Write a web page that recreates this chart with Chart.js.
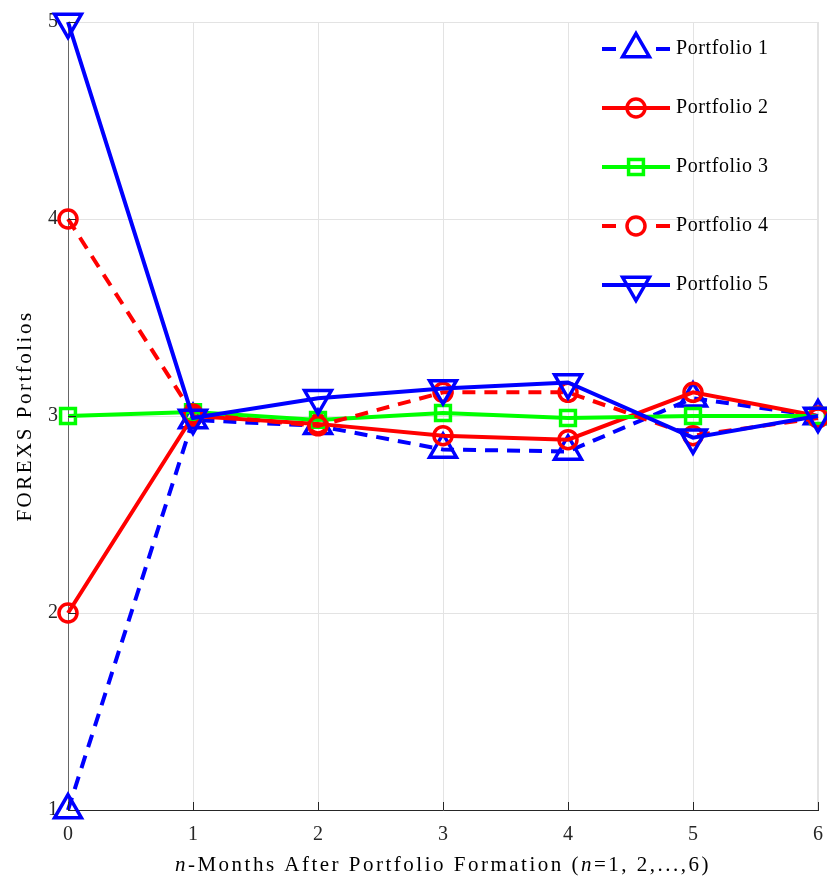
<!DOCTYPE html>
<html>
<head>
<meta charset="utf-8">
<script src="https://cdn.jsdelivr.net/npm/chart.js@4.4.0/dist/chart.umd.min.js"></script>
<style>
  body { margin: 0; background: #fff; }
  canvas { display: block; }
</style>
</head>
<body>
<canvas id="myChart" width="827" height="877"></canvas>
<script>
const months = ['0', '1', '2', '3', '4', '5', '6'];
const yTicks = [1, 2, 3, 4, 5];

const portfolio1 = [1.00, 2.98, 2.95, 2.83, 2.82, 3.09, 3.00];
const portfolio2 = [2.00, 3.00, 2.96, 2.90, 2.88, 3.12, 3.00];
const portfolio3 = [3.00, 3.02, 2.98, 3.015, 2.99, 3.00, 3.00];
const portfolio4 = [4.00, 3.01, 2.95, 3.12, 3.12, 2.90, 2.99];
const portfolio5 = [5.00, 2.99, 3.09, 3.14, 3.17, 2.89, 3.00];

const seriesNames = ['Portfolio 1', 'Portfolio 2', 'Portfolio 3', 'Portfolio 4', 'Portfolio 5'];
const seriesValues = [portfolio1, portfolio2, portfolio3, portfolio4, portfolio5];
const colors = ['#0000ff', '#ff0000', '#00ff00', '#ff0000', '#0000ff'];
const dashes = [[13, 9], [], [], [13, 9], []];
const markers = ['triangle', 'circle', 'rect', 'circle', 'triangle'];
const markerRot = [0, 0, 0, 0, 180];
const markerSize = [15.5, 9, 10.5, 9, 15.5];

const FONT = "'Liberation Serif', 'Times New Roman', serif";

const datasets = seriesValues.map((vals, i) => ({
  label: seriesNames[i],
  data: vals,
  borderColor: colors[i],
  borderWidth: 4,
  borderDash: dashes[i],
  pointStyle: markers[i],
  rotation: markerRot[i],
  pointRadius: markerSize[i],
  pointBorderWidth: 3.5,
  pointBorderColor: colors[i],
  pointBackgroundColor: 'rgba(0,0,0,0)',
  fill: false,
  tension: 0,
  clip: false,
  order: 4 - i
}));

function drawMarker(ctx, style, x, y, r, rot) {
  ctx.beginPath();
  if (style === 'circle') {
    ctx.arc(x, y, r, 0, Math.PI * 2);
  } else if (style === 'rect') {
    const s = Math.SQRT1_2 * r;
    ctx.rect(x - s, y - s, 2 * s, 2 * s);
  } else {
    let a = rot * Math.PI / 180;
    ctx.moveTo(x + Math.sin(a) * r, y - Math.cos(a) * r);
    a += 2 * Math.PI / 3;
    ctx.lineTo(x + Math.sin(a) * r, y - Math.cos(a) * r);
    a += 2 * Math.PI / 3;
    ctx.lineTo(x + Math.sin(a) * r, y - Math.cos(a) * r);
    ctx.closePath();
  }
  ctx.stroke();
}

// draws text made of [text, italic] pieces, centred on x
function drawPieces(ctx, pieces, x, y, size, spacing) {
  ctx.letterSpacing = spacing + 'px';
  let total = 0;
  const widths = pieces.map(p => {
    ctx.font = (p[1] ? 'italic ' : '') + size + 'px ' + FONT;
    const w = ctx.measureText(p[0]).width;
    total += w;
    return w;
  });
  let cx = x - total / 2;
  pieces.forEach((p, i) => {
    ctx.font = (p[1] ? 'italic ' : '') + size + 'px ' + FONT;
    ctx.fillText(p[0], cx, y);
    cx += widths[i];
  });
  ctx.letterSpacing = '0px';
}

const extras = {
  id: 'extras',
  afterDatasetsDraw(chart) {
    const ctx = chart.ctx;
    const xs = chart.scales.x, ys = chart.scales.y;
    const area = chart.chartArea;
    ctx.save();
    // inner tick marks
    ctx.strokeStyle = '#262626';
    ctx.lineWidth = 1;
    ctx.setLineDash([]);
    months.forEach((m, i) => {
      const px = Math.round(xs.getPixelForValue(i)) + 0.5;
      ctx.beginPath();
      ctx.moveTo(px, area.bottom);
      ctx.lineTo(px, area.bottom - 8);
      ctx.stroke();
    });
    yTicks.forEach(v => {
      const py = Math.round(ys.getPixelForValue(v)) + 0.5;
      ctx.beginPath();
      ctx.moveTo(area.left, py);
      ctx.lineTo(area.left + 8, py);
      ctx.stroke();
    });
    // legend inside plot
    const lx0 = area.right - 216, lx1 = area.right - 148;
    chart.data.datasets.forEach((ds, i) => {
      const y = area.top + 27 + i * 59;
      ctx.strokeStyle = ds.borderColor;
      ctx.lineWidth = 4;
      ctx.setLineDash(ds.borderDash.length ? [14, 40, 14, 0] : []);
      ctx.beginPath();
      ctx.moveTo(lx0, y);
      ctx.lineTo(lx1, y);
      ctx.stroke();
      ctx.setLineDash([]);
      ctx.lineWidth = 3.5;
      drawMarker(ctx, ds.pointStyle, (lx0 + lx1) / 2, y, ds.pointRadius, ds.rotation);
      ctx.fillStyle = '#000';
      ctx.textBaseline = 'middle';
      ctx.textAlign = 'left';
      ctx.font = '20px ' + FONT;
      ctx.letterSpacing = '0.6px';
      ctx.fillText(ds.label, lx1 + 6, y);
      ctx.letterSpacing = '0px';
    });
    // axis titles
    ctx.fillStyle = '#000';
    ctx.textAlign = 'left';
    ctx.textBaseline = 'alphabetic';
    drawPieces(ctx, [['n', true], ['-Months After Portfolio Formation (', false], ['n', true], ['=1, 2,...,6)', false]],
      (area.left + area.right) / 2, 871, 21, 2.5);
    ctx.translate(31, (area.top + area.bottom) / 2);
    ctx.rotate(-Math.PI / 2);
    drawPieces(ctx, [['FOREXS Portfolios', false]], 0, 0, 21, 2.5);
    ctx.restore();
  }
};

const ctx = document.getElementById('myChart').getContext('2d');
const myChart = new Chart(ctx, {
  type: 'line',
  data: {
    labels: months,
    datasets: datasets
  },
  options: {
    responsive: false,
    animation: false,
    layout: { autoPadding: false, padding: { left: 0, right: 9, top: 22, bottom: 0 } },
    scales: {
      x: {
        offset: false,
        grid: { color: '#e3e3e3', drawTicks: false },
        border: { color: '#262626', width: 1 },
        ticks: { color: '#262626', padding: 13, font: { family: FONT, size: 20 } },
        afterFit(scale) {
          scale.height = 67;
          scale.paddingLeft = 0;
          scale.paddingRight = 0;
        }
      },
      y: {
        min: 1,
        max: 5,
        grid: { color: '#e3e3e3', drawTicks: false },
        border: { color: '#666', width: 1 },
        ticks: { stepSize: 1, color: '#262626', padding: 10, font: { family: FONT, size: 20 } },
        afterFit(scale) {
          scale.width = 68;
          scale.paddingTop = 0;
          scale.paddingBottom = 0;
        }
      }
    },
    plugins: {
      legend: { display: false },
      tooltip: { enabled: false }
    }
  },
  plugins: [extras, {
    id: 'topRightBorder',
    beforeDatasetsDraw(chart) {
      const c = chart.ctx, a = chart.chartArea;
      c.save();
      c.strokeStyle = '#e3e3e3';
      c.lineWidth = 1;
      c.beginPath();
      c.moveTo(a.left, a.top + 0.5);
      c.lineTo(a.right - 0.5, a.top + 0.5);
      c.lineTo(a.right - 0.5, a.bottom);
      c.stroke();
      c.restore();
    }
  }]
});
</script>
</body>
</html>
